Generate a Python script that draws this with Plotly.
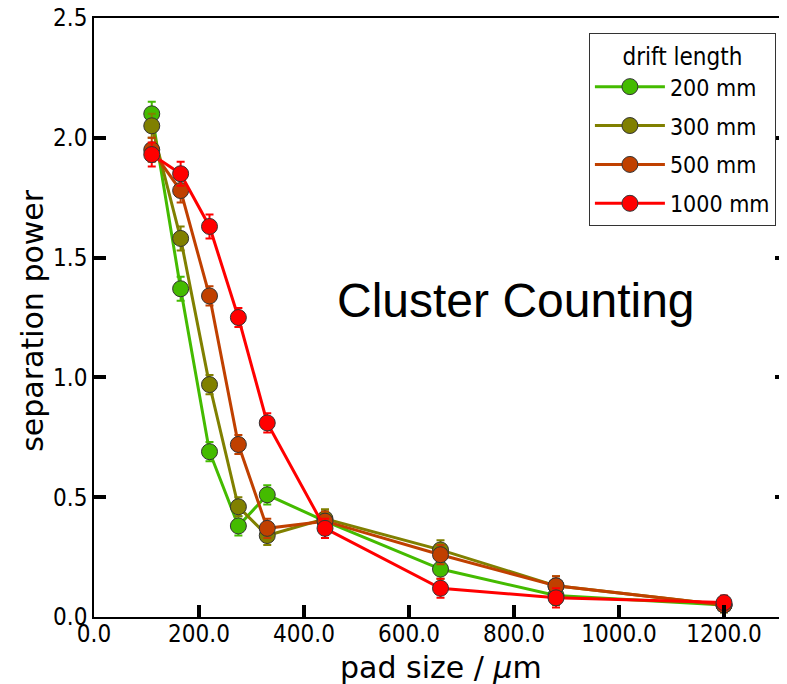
import plotly.graph_objects as go

# pad sizes in um
pad_size = [110, 165, 220, 275, 330, 440, 660, 880, 1200]

# separation power per drift length
sp_200 = [2.10, 1.37, 0.69, 0.38, 0.51, 0.40, 0.20, 0.09, 0.05]
sp_300 = [2.05, 1.58, 0.97, 0.46, 0.34, 0.41, 0.28, 0.13, 0.05]
sp_500 = [1.95, 1.78, 1.34, 0.72, 0.37, 0.40, 0.26, 0.13, 0.05]
sp_1000 = [1.93, 1.85, 1.63, 1.25, 0.81, 0.37, 0.12, 0.08, 0.06]

err_200 = [0.05, 0.05, 0.04, 0.04, 0.04, 0.04, 0.04, 0.04, 0.03]
err_300 = [0.05, 0.05, 0.04, 0.04, 0.04, 0.04, 0.04, 0.04, 0.03]
err_500 = [0.05, 0.05, 0.04, 0.04, 0.04, 0.04, 0.04, 0.04, 0.03]
err_1000 = [0.05, 0.05, 0.05, 0.04, 0.04, 0.04, 0.04, 0.04, 0.03]

names = ['200 mm', '300 mm', '500 mm', '1000 mm']
colors = ['#44bb00', '#808000', '#c04000', '#ff0000']

tick_font = 'Liberation Sans Narrow, DejaVu Sans Condensed, sans-serif'
title_font = 'DejaVu Sans, sans-serif'

fig = go.Figure()
for name, col, ys, es in zip(names, colors,
                             [sp_200, sp_300, sp_500, sp_1000],
                             [err_200, err_300, err_500, err_1000]):
    fig.add_trace(go.Scatter(
        x=pad_size, y=ys, name=name, mode='lines+markers', legendgroup=name,
        line=dict(color=col, width=3),
        marker=dict(color=col, size=16, line=dict(color='#333333', width=1)),
        error_y=dict(type='data', array=es, color=col, thickness=2, width=4),
    ))

# empty trace just to carry the right side ticks
fig.add_trace(go.Scatter(x=[], y=[], yaxis='y2', showlegend=False))

fig.add_annotation(x=804, y=1.32, xref='x', yref='y', text='Cluster Counting',
                   showarrow=False,
                   font=dict(family='Liberation Sans, Arial', size=48, color='black'))

# axis titles placed by hand
fig.add_annotation(x=0.5, y=-0.084, xref='paper', yref='paper', yanchor='middle',
                   text='pad size / <i>μ</i>m', showarrow=False,
                   font=dict(family=title_font, size=30))
fig.add_annotation(x=-0.089, y=0.495, xref='paper', yref='paper', xanchor='center',
                   yanchor='middle', textangle=-90,
                   text='separation power', showarrow=False,
                   font=dict(family=title_font, size=30))

# page body has an 8px margin, so margins are shifted by that much
fig.update_layout(
    width=787, height=684,
    margin=dict(l=86, r=8, t=10, b=75),
    plot_bgcolor='white', paper_bgcolor='white',
    font=dict(family=tick_font, color='black'),
    xaxis=dict(
        range=[0, 1320], tickvals=[0, 200, 400, 600, 800, 1000, 1200],
        ticktext=['0.0', '200.0', '400.0', '600.0', '800.0', '1000.0', '1200.0'],
        ticks='inside', ticklen=12, tickwidth=4, tickcolor='black',
        showline=True, linecolor='black', linewidth=1.5, mirror=True,
        showgrid=False, zeroline=False, automargin=False,
        tickfont=dict(size=24), ticklabelstandoff=-6, ticklabeloverflow='allow',
    ),
    yaxis=dict(
        range=[0, 2.5], tickvals=[0, 0.5, 1.0, 1.5, 2.0, 2.5],
        ticktext=['0.0', '0.5', '1.0', '1.5', '2.0', '2.5'],
        ticks='inside', ticklen=12, tickwidth=4, tickcolor='black',
        showline=True, linecolor='black', linewidth=1.5,
        showgrid=False, zeroline=False, automargin=False,
        tickfont=dict(size=24), ticklabeloverflow='allow',
    ),
    yaxis2=dict(
        overlaying='y', side='right', range=[0, 2.5],
        tickvals=[0, 0.5, 1.0, 1.5, 2.0, 2.5],
        ticks='inside', ticklen=12, tickwidth=4, tickcolor='black',
        showticklabels=False, showline=False, showgrid=False, zeroline=False,
        automargin=False,
    ),
    legend=dict(
        x=0.984, y=0.975, xanchor='right', yanchor='top',
        bordercolor='#333333', borderwidth=1, bgcolor='white',
        font=dict(size=23),
        title=dict(text='drift length', side='top center', font=dict(size=24)),
        itemwidth=70, tracegroupgap=6,
    ),
)

fig.write_html('out.html')
